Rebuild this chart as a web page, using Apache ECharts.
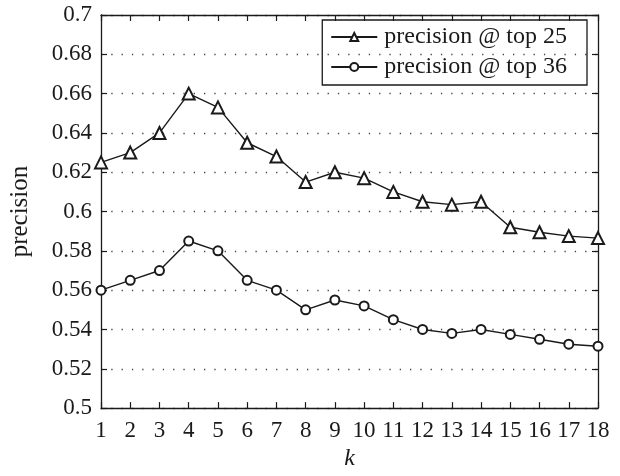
<!DOCTYPE html>
<html><head><meta charset="utf-8">
<script src="https://cdn.jsdelivr.net/npm/echarts@6/dist/echarts.min.js"></script>
<style>html,body{margin:0;padding:0;background:#fff}#c{width:620px;height:476px}</style>
</head><body><div id="c"></div>
<script>
const kValues = [1,2,3,4,5,6,7,8,9,10,11,12,13,14,15,16,17,18];
const top25 = [0.625,0.630,0.640,0.660,0.653,0.635,0.628,0.615,0.620,0.617,0.610,0.605,0.6035,0.605,0.592,0.5895,0.5875,0.5865];
const top36 = [0.560,0.565,0.570,0.585,0.580,0.565,0.560,0.550,0.555,0.552,0.545,0.540,0.538,0.540,0.5375,0.535,0.5325,0.5315];
const seriesNames = ['precision @ top 25','precision @ top 36'];

const font = 'Liberation Serif';
const ink = '#1a1a1a';
const chart = echarts.init(document.getElementById('c'));
const pair = (vals) => kValues.map((k,i)=>[k, vals[i]]);
const axisCommon = {
  axisLine:{show:true,lineStyle:{color:ink,width:1.3}},
  axisTick:{show:true,inside:true,length:6,lineStyle:{color:ink,width:1.2}},
};
chart.setOption({
  animation:false,
  backgroundColor:'#fff',
  grid:{left:101,right:22,top:15,bottom:65},
  legend:{
    top:20,right:33,orient:'vertical',
    borderColor:ink,borderWidth:1.3,padding:[5,20,6,8],
    itemWidth:46,itemHeight:10,itemGap:6,
    textStyle:{fontFamily:font,fontSize:24,color:ink,padding:[0,0,0,2]},
    data:seriesNames
  },
  xAxis:[
    Object.assign({type:'value',min:1,max:18,interval:1,
      name:'k',nameLocation:'middle',nameGap:37,
      nameTextStyle:{fontFamily:font,fontSize:24,fontStyle:'italic',color:ink},
      axisLabel:{fontFamily:font,fontSize:23,color:ink,margin:11},
      splitLine:{show:false}},axisCommon),
    Object.assign({type:'value',min:1,max:18,interval:1,position:'top',
      axisLabel:{show:false},splitLine:{show:false}},axisCommon)
  ],
  yAxis:[
    Object.assign({type:'value',min:0.5,max:0.7,interval:0.02,
      name:'precision',nameLocation:'middle',nameGap:68,
      nameTextStyle:{fontFamily:font,fontSize:25,color:ink},
      axisLabel:{fontFamily:font,fontSize:23,color:ink,margin:9},
      splitLine:{show:true,lineStyle:{color:'#444',width:1.3,type:[1.3,9]}}},axisCommon),
    Object.assign({type:'value',min:0.5,max:0.7,interval:0.02,position:'right',
      axisLabel:{show:false},splitLine:{show:false}},axisCommon)
  ],
  series:[
    {name:seriesNames[0],type:'line',data:pair(top25),symbol:'emptyTriangle',symbolSize:12,
      itemStyle:{color:ink,borderWidth:1.3},lineStyle:{color:ink,width:1.4}},
    {name:seriesNames[1],type:'line',data:pair(top36),symbol:'emptyCircle',symbolSize:9,
      itemStyle:{color:ink,borderWidth:1.3},lineStyle:{color:ink,width:1.4}}
  ]
});
</script></body></html>
